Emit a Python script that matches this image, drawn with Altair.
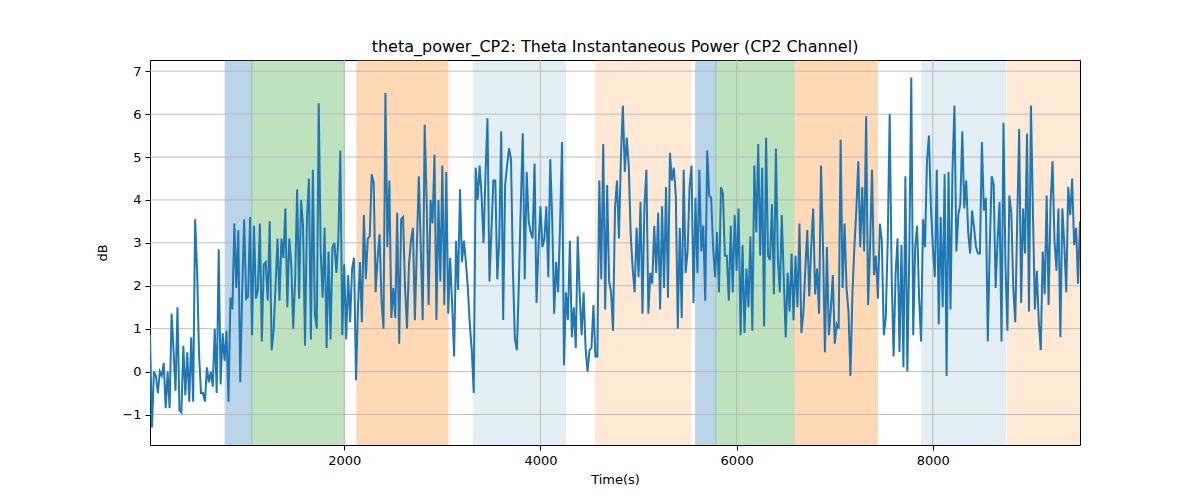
import altair as alt
import pandas as pd

# ---------------- data ----------------
T0 = 20
STEP = 20

seg1 = [0.85, -1.3, 0.0, -0.1, -0.5, 0.0, -0.1, 0.2, -0.85, 0.0,
        -0.85, 1.35, 0.5, -0.45, 1.5, -0.9, -0.95, 0.6, -0.55, 0.45,
        -0.7, 0.8, -0.7, 3.55, 2.35, 0.4, -0.5, -0.5, -0.7, 0.1,
        -0.25, 0.0, -0.35, 1.0, -0.5, 2.85, -0.3, 0.9, 0.25, 0.95,
        -0.7, 1.72, 1.45, 3.45, 1.95, 3.3, -0.25, 1.9, 3.55, 1.7,
        1.75, 3.6, 0.85, 3.4, 1.7, 1.9, 3.45, 0.7, 2.5]
seg2 = [2.55, 1.65, 3.5, 0.5, 0.95, 2.0, 3.1, 1.65, 3.1, 2.65,
        3.8, 1.5, 3.1, 2.5, 1.0, 2.2, 4.25, 1.7, 4.0, 3.4,
        0.6, 3.55, 4.5, 0.75, 4.7, 1.35, 1.0, 6.25, 2.8, 1.72,
        3.35, 0.55, 2.8, 0.75, 2.9, 3.0, 2.3, 3.1, 5.15, 0.85,
        2.5, 0.75, 2.25, 1.15, 2.4, 2.65, -0.2, 1.5, 2.55, 1.15,
        3.65, 2.15, 3.1, 3.15, 4.6, 4.4, 1.85, 2.65, 3.2]
seg3 = [1.65, 1.0, 6.49, 2.9, 4.45, 1.25, 1.95, 1.25, 3.7, 0.65,
        3.55, 3.6, 1.95, 1.0, 2.5, 3.05, 3.35, 1.2, 2.9, 4.55,
        2.9, 1.2, 5.75, 3.95, 1.55, 4.0, 3.45, 5.05, 1.2, 4.0,
        2.1, 4.8, 1.55, 4.65, 1.35, 2.65, 1.55, 0.35, 3.05, 1.9,
        4.25, 2.55, 3.05, 2.55, 1.95, 1.1, 0.5, -0.5, 4.75, 4.0,
        4.8, 4.1, 3.0, 4.6, 5.9, 2.1, 3.25, 4.45]
seg4 = [4.45, 2.15, 3.05, 5.6, 1.2, 4.35, 4.8, 5.2, 4.95, 2.3,
        0.75, 0.5, 2.05, 3.9, 5.55, 2.15, 4.65, 3.5, 3.25, 3.1,
        4.85, 1.6, 2.9, 3.85, 2.9, 3.1, 3.85, 2.2, 4.95, 3.55,
        1.35, 2.55, 1.85, 3.4, 5.35, 0.15, 1.85, 1.2, 3.05, 0.8,
        1.5, 0.55, 3.15, 1.8, 0.85, 1.85, 0.55, 0.0, 0.5, 0.55,
        1.55, 0.35, 0.35, 4.45, 2.15, 5.3, 1.45, 4.35, 2.1]
seg5 = [1.85, 0.95, 3.8, 4.45, 3.1, 4.95, 6.2, 4.65, 5.45, 4.8,
        3.2, 2.4, 1.85, 3.35, 2.2, 3.95, 1.35, 3.85, 4.7, 1.35,
        2.3, 2.05, 3.4, 2.3, 3.7, 1.45, 3.85, 1.95, 4.3, 1.72,
        5.1, 4.45, 4.75, 4.1, 1.0, 3.35, 1.25, 4.7, 2.3, 2.8,
        4.3, 4.8, 1.6, 4.05, 2.3, 4.7, 2.8, 3.4, 1.65, 5.15,
        4.1, 4.05, 2.9, 2.2, 3.25, 1.85, 4.3, 4.15, 2.7]
seg6 = [2.7, 1.65, 3.4, 1.85, 3.65, 2.35, 3.8, 0.85, 2.95, 0.9,
        2.4, 1.5, 3.15, 0.95, 4.8, 3.25, 5.3, 2.7, 4.75, 1.05,
        5.45, 2.7, 2.6, 3.9, 1.8, 5.2, 2.65, 1.85, 3.65, 2.2,
        0.8, 2.3, 1.4, 2.75, 1.2, 2.7, 1.5, 3.45, 0.9, 1.35,
        2.4, 3.3, 1.75, 2.9, 3.8, 1.8, 2.4, 1.35, 4.8, 2.95,
        0.45, 2.9, 0.85, 1.45, 2.25, 0.65, 1.1, 1.0, 5.4]
seg7 = [1.95, 3.45, 1.95, 1.4, -0.1, 1.8, 2.9, 3.75, 4.9, 2.9,
        4.3, 2.8, 5.95, 1.55, 2.9, 4.7, 2.25, 2.7, 1.7, 3.45,
        3.05, 0.85, 1.25, 3.05, 6.0, 2.25, 0.35, 2.25, 3.1, 0.45,
        2.95, 0.1, 4.55, 0.0, 2.8, 6.85, 0.85, 2.9, 3.4, 1.7,
        0.7, 3.55, 2.9, 4.9, 5.5, 3.85, 2.9, 2.2, 4.7, 1.1,
        3.6, 1.5, 4.6, -0.1, 4.65, 1.45, 4.65, 6.2]
seg8 = [2.8, 3.65, 3.9, 5.6, 3.8, 4.45, 3.25, 2.75, 3.75, 3.35,
        2.9, 2.75, 2.75, 5.35, 3.75, 4.05, 0.7, 2.9, 4.55, 4.35,
        1.95, 3.05, 3.95, 0.7, 5.8, 2.5, 0.95, 4.1, 3.7, 1.95,
        1.15, 3.5, 5.65, 1.6, 3.8, 2.75, 5.55, 1.4, 6.2, 3.75,
        1.45, 2.35, 1.15, 0.5, 2.8, 1.8, 4.1, 1.55, 3.9, 4.9,
        3.05, 2.35, 3.8, 0.8, 3.8, 2.95, 1.85, 4.3, 3.65, 4.5,
        2.95, 3.35, 2.05, 3.5]

power_db = seg1 + seg2 + seg3 + seg4 + seg5 + seg6 + seg7 + seg8
time_s = [T0 + STEP * i for i in range(len(power_db))]

band_start = [786, 1058, 2129, 3316, 4561, 5582, 5789, 6589, 7888, 8762]
band_end = [1058, 2000, 3058, 4255, 5531, 5789, 6582, 7435, 8745, 9520]
band_kind = ["blue", "green", "orange", "lightblue", "lightorange",
             "blue", "green", "orange", "lightblue", "lightorange"]

# colour and alpha of each band kind
band_styles = {
    "blue": ("#1f77b4", 0.3),
    "green": ("#2ca02c", 0.3),
    "orange": ("#ff7f0e", 0.3),
    "lightblue": ("#1f77b4", 0.12),
    "lightorange": ("#ff7f0e", 0.17),
}

x_ticks = [2000, 4000, 6000, 8000]
y_ticks = [-1, 0, 1, 2, 3, 4, 5, 6, 7]

X_DOMAIN = [20, 9500]
Y_DOMAIN = [-1.71, 7.26]

W, H = 930, 385
FONT = "DejaVu Sans"

# ---------------- chart ----------------
line_df = pd.DataFrame({"t": time_s, "v": power_db})
band_df = pd.DataFrame({"s": band_start, "e": band_end, "k": band_kind})
xg_df = pd.DataFrame({"t": x_ticks})
yg_df = pd.DataFrame({"v": y_ticks})

xscale = alt.Scale(domain=X_DOMAIN, nice=False, zero=False)
yscale = alt.Scale(domain=Y_DOMAIN, nice=False, zero=False)

axis_common = dict(grid=False, domain=False, format="d", tickColor="black",
                   tickSize=5, tickWidth=1, labelPadding=4, labelColor="black",
                   titleColor="black", labelFont=FONT, labelFontSize=13,
                   titleFont=FONT, titleFontSize=13, titleFontWeight="normal")
xaxis = alt.Axis(values=x_ticks, title="Time(s)", titlePadding=6, **axis_common)
yaxis = alt.Axis(values=y_ticks, title="dB", titlePadding=12, **axis_common)

band_layers = []
for kind, (col, alpha) in band_styles.items():
    band_layers.append(
        alt.Chart(band_df).transform_filter(alt.datum.k == kind).mark_rect(
            clip=True, color=col, opacity=alpha, stroke=col, strokeWidth=1
        ).encode(
            x=alt.X("s:Q", scale=xscale, axis=xaxis),
            x2="e:Q",
            y=alt.value(0),
            y2=alt.value(H),
        )
    )

xgrid = alt.Chart(xg_df).mark_rule(color="#b0b0b0", strokeWidth=0.8).encode(
    x=alt.X("t:Q", scale=xscale, axis=xaxis),
    y=alt.value(0), y2=alt.value(H),
)
ygrid = alt.Chart(yg_df).mark_rule(color="#b0b0b0", strokeWidth=0.8).encode(
    y=alt.Y("v:Q", scale=yscale, axis=yaxis),
    x=alt.value(0), x2=alt.value(W),
)

line = alt.Chart(line_df).mark_line(color="#1f77b4", strokeWidth=2, clip=True).encode(
    x=alt.X("t:Q", scale=xscale, axis=xaxis),
    y=alt.Y("v:Q", scale=yscale, axis=yaxis),
)

chart = alt.layer(*band_layers, xgrid, ygrid, line).properties(
    width=W, height=H,
    background="white",
    title=alt.TitleParams("theta_power_CP2: Theta Instantaneous Power (CP2 Channel)",
                          font=FONT, fontSize=16, fontWeight="normal",
                          color="black", anchor="middle", offset=5),
    autosize=alt.AutoSizeParams(type="none"),
    padding={"left": 150, "top": 60, "right": 120, "bottom": 55},
).configure_view(
    stroke="black", strokeWidth=1
)

chart.save("out.html", embed_options={"renderer": "svg", "actions": False})
